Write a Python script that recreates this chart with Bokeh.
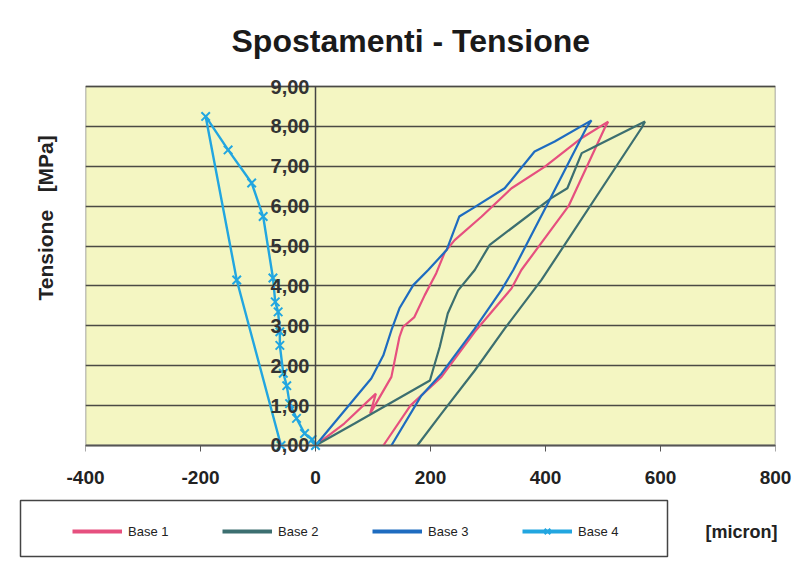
from bokeh.plotting import figure
from bokeh.models import (Range1d, FixedTicker, Label, Title, Legend, LegendItem, LinearAxis,
                          CustomLabelingPolicy)
from bokeh.embed import file_html
from bokeh.resources import INLINE

# ---------------- data ----------------
title_text = "Spostamenti - Tensione"
y_title = "Tensione\u00a0\u00a0\u00a0[MPa]"
x_unit = "[micron]"
series_names = ["Base 1", "Base 2", "Base 3", "Base 4"]

xticks = [-400, -200, 0, 200, 400, 600, 800]
xtick_labels = ["-400", "-200", "0", "200", "400", "600", "800"]
yticks = [0, 1, 2, 3, 4, 5, 6, 7, 8, 9]
ytick_labels = ["0,00", "1,00", "2,00", "3,00", "4,00", "5,00", "6,00", "7,00", "8,00", "9,00"]

base1_x = [0, 50, 105, 95, 132, 146, 152, 172, 190, 210, 225, 242, 289, 341, 399, 463, 509, 503, 440, 358, 341, 277, 219, 165, 118]
base1_y = [0, 0.55, 1.3, 0.8, 1.72, 2.72, 2.97, 3.22, 3.77, 4.32, 4.85, 5.15, 5.74, 6.45, 6.99, 7.71, 8.12, 7.96, 6.0, 4.4, 3.94, 2.85, 1.72, 1.0, 0]

base2_x = [0, 68, 199, 205, 216, 230, 248, 277, 303, 410, 438, 463, 480, 573, 567, 393, 329, 277, 219, 177]
base2_y = [0, 0.55, 1.63, 1.93, 2.47, 3.31, 3.89, 4.4, 5.03, 6.2, 6.45, 7.33, 7.45, 8.12, 7.96, 4.15, 2.93, 1.88, 0.8, 0]

base3_x = [0, 68, 97, 118, 132, 146, 170, 196, 228, 250, 274, 329, 381, 416, 480, 471, 405, 344, 323, 277, 219, 184, 132]
base3_y = [0, 1.18, 1.68, 2.26, 2.89, 3.44, 4.02, 4.4, 4.9, 5.74, 5.95, 6.45, 7.37, 7.62, 8.15, 7.96, 6.1, 4.4, 3.89, 2.93, 1.8, 1.25, 0]

base4_x = [0, -6, -19, -33, -45, -50, -56, -62, -62, -65, -70, -74, -91, -111, -152, -191, -137, -60]
base4_y = [0, 0.15, 0.3, 0.68, 1.05, 1.5, 1.81, 2.51, 2.85, 3.35, 3.6, 4.2, 5.74, 6.58, 7.41, 8.25, 4.15, 0]

colors = ["#E6507F", "#3C6F70", "#1E6CC0", "#22A6E0"]

FONT = "Liberation Sans"
W = 808
H_MAIN = 495
H_LEG = 72
PAD = 0.351  # room above 9,00 and below 0,00 inside the frame (for the y tick labels)

# ---------------- main chart ----------------
p = figure(width=W, height=H_MAIN, output_backend="svg", toolbar_location=None,
           x_range=Range1d(xticks[0], xticks[-1]),
           y_range=Range1d(yticks[0] - PAD, yticks[-1] + PAD),
           x_axis_location=None, y_axis_location=None,
           min_border_left=85, min_border_right=33, min_border_top=72, min_border_bottom=36)
p.background_fill_color = "white"
p.border_fill_color = "white"
p.outline_line_color = None

# plot area (yellow) spanning the axis extents
p.quad(left=[xticks[0]], right=[xticks[-1]], bottom=[yticks[0]], top=[yticks[-1]],
       fill_color="#F4F6C2", line_color="#8a8a8a", line_width=1.5, level="image")

p.title.text = title_text
p.title.align = "left"
p.title.offset = 146
p.title.text_font = FONT
p.title.text_font_style = "bold"
p.title.text_font_size = "32px"
p.title.text_color = "#1a1a1a"
p.title.standoff = 28

# x tick labels (bottom panel)
xlab = LinearAxis(ticker=FixedTicker(ticks=xticks))
xlab.major_label_overrides = {t: l for t, l in zip(xticks, xtick_labels)}
xlab.major_label_text_font = FONT
xlab.major_label_text_font_style = "bold"
xlab.major_label_text_font_size = "19px"
xlab.major_label_text_color = "#222222"
xlab.major_label_standoff = 5
xlab.major_tick_line_color = None
xlab.minor_tick_line_color = None
xlab.axis_line_color = None
p.add_layout(xlab, "below")

# x axis line + tick marks at y = 0 (its labels are drawn by the axis above)
xline = LinearAxis(ticker=FixedTicker(ticks=xticks), fixed_location=0,
                   bounds=(xticks[0], xticks[-1]),
                   major_label_policy=CustomLabelingPolicy(code="for (const i of indices) indices.unset(i)"))
xline.major_tick_out = 6
xline.major_tick_in = 0
xline.minor_tick_line_color = None
xline.axis_line_color = "#555555"
xline.axis_line_width = 1.5
xline.major_tick_line_color = "#555555"
p.add_layout(xline, "below")

# y axis crossing at x = 0
yax = LinearAxis(ticker=FixedTicker(ticks=yticks), fixed_location=0, bounds=(yticks[0], yticks[-1]))
yax.major_label_overrides = {t: l for t, l in zip(yticks, ytick_labels)}
yax.major_label_text_font = FONT
yax.major_label_text_font_style = "bold"
yax.major_label_text_font_size = "20px"
yax.major_label_text_color = "#333333"
yax.major_label_standoff = 6
yax.major_tick_out = 0
yax.major_tick_in = 0
yax.minor_tick_line_color = None
yax.axis_line_color = "#444444"
yax.axis_line_width = 1.5
p.add_layout(yax, "left")

p.add_layout(Title(text=y_title, align="left", offset=159, text_font=FONT,
                   text_font_style="bold", text_font_size="21px", text_color="#222222",
                   standoff=57), "left")

p.xgrid.visible = False
p.ygrid.ticker = FixedTicker(ticks=yticks)
p.ygrid.grid_line_color = "#4a4a44"
p.ygrid.grid_line_width = 1.3

p.line(base1_x, base1_y, line_color=colors[0], line_width=2.2)
p.line(base2_x, base2_y, line_color=colors[1], line_width=2.2)
p.line(base3_x, base3_y, line_color=colors[2], line_width=2.2)
p.line(base4_x, base4_y, line_color=colors[3], line_width=2.4)
p.scatter(base4_x, base4_y, marker="x", size=12, line_color=colors[3], line_width=2)

# ---------------- legend strip ----------------
q = figure(width=W, height=H_LEG, output_backend="svg", toolbar_location=None,
           x_range=Range1d(0, W), y_range=Range1d(0, H_LEG),
           x_axis_location=None, y_axis_location=None,
           min_border_left=0, min_border_right=0, min_border_top=0, min_border_bottom=0)
q.grid.visible = False
q.outline_line_color = None
q.background_fill_color = "white"

# legend frame (pixel coordinates of the strip)
q.quad(left=[20], right=[667], bottom=[11], top=[67], fill_color=None,
       line_color="#444444", line_width=1.5)

off = [-50, -40]
l1 = q.line(off, off, line_color=colors[0], line_width=4)
l2 = q.line(off, off, line_color=colors[1], line_width=4)
l3 = q.line(off, off, line_color=colors[2], line_width=4)
l4 = q.line(off, off, line_color=colors[3], line_width=4)
l4m = q.scatter(off, off, marker="x", size=7, line_color=colors[3], line_width=2)

leg = Legend(items=[LegendItem(label=series_names[0], renderers=[l1]),
                    LegendItem(label=series_names[1], renderers=[l2]),
                    LegendItem(label=series_names[2], renderers=[l3]),
                    LegendItem(label=series_names[3], renderers=[l4, l4m])],
             location=(72, 26), orientation="horizontal", padding=0, margin=0,
             spacing=0, glyph_width=50, glyph_height=20, label_width=94, label_standoff=6,
             label_text_font=FONT, label_text_font_size="13px", label_text_color="#222222",
             border_line_color=None, background_fill_alpha=0)
q.add_layout(leg)

q.add_layout(Label(x=741, y=36, text=x_unit, text_align="center", text_baseline="middle",
                   text_font=FONT, text_font_style="bold", text_font_size="18px",
                   text_color="#222222"))

open("out.html", "w").write(file_html([p, q], INLINE))
